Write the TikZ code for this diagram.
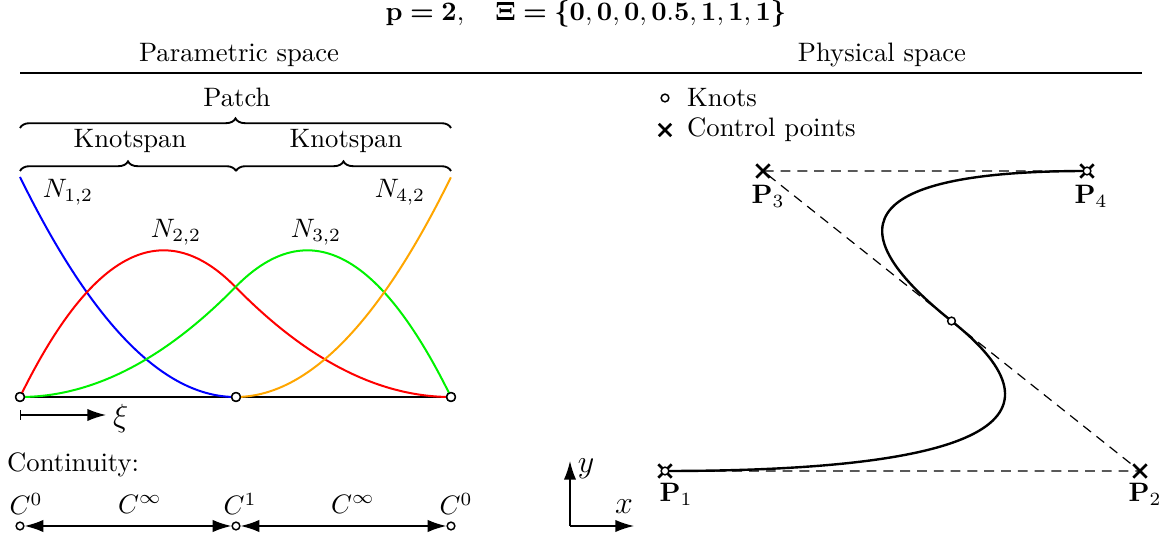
\documentclass[tikz,border=0pt]{standalone}
\usepackage{amsmath,bm}
\usetikzlibrary{arrows.meta,decorations.pathreplacing,calc,shapes.misc}
\definecolor{myorange}{rgb}{1,0.65,0}
\definecolor{mygreen}{rgb}{0,0.95,0}
\newcommand{\titletext}{$\mathbf{p}\bm{=}\mathbf{2},\quad\bm{\Xi}\bm{=}\bm{\{}\mathbf{0},\mathbf{0},\mathbf{0},\mathbf{0.5},\mathbf{1},\mathbf{1},\mathbf{1}\bm{\}}$}
\tikzset{ltip/.tip={Latex[length=7pt,width=4.6pt]}}
\begin{document}
\begin{tikzpicture}[x=0.375pt,y=-0.375pt,
  knot/.style={circle,draw,fill=white,inner sep=0pt,minimum size=3.3pt,line width=0.55pt},
  smallknot/.style={circle,draw,fill=white,inner sep=0pt,minimum size=2.9pt,line width=0.55pt},
  cpt/.style={cross out,draw,inner sep=0pt,minimum size=4pt,line width=1pt},
  bracedec/.style={decorate,decoration={brace,amplitude=3.6pt},line width=0.7pt},
  basis/.style={line width=0.75pt},
  lbl/.style={inner sep=1pt}]
\useasboundingbox (0,0) rectangle (1172,540);
% title
\node[lbl] (ttl) at (586,14) {\titletext};
\node[lbl] (parsp) at (239,55) {Parametric space};
\node[lbl] (physp) at (882,55) {Physical space};
\coordinate (rl) at (20,73);
\coordinate (rr) at (1142,73);
\draw[line width=0.9pt] (rl) -- (rr);
% braces
\coordinate (b0) at (20,128);
\coordinate (b2) at (451,128);
\draw[bracedec] (b0) -- (b2);
\node[lbl] (patch) at (237,97) {Patch};
\coordinate (k0) at (20,171);
\coordinate (k1) at (236,171);
\coordinate (k2) at (451,171);
\draw[bracedec] (k0) -- (k1);
\draw[bracedec] (k1) -- (k2);
\node[lbl] (ks1) at (130,141) {Knotspan};
\node[lbl] (ks2) at (346,141) {Knotspan};
% basis functions
\node[knot] (x0) at (20,397) {};
\node[knot] (x1) at (236,397) {};
\node[knot] (x2) at (451,397) {};
\draw[basis] (x0.center) -- (x2.center);
\draw[basis,blue] plot[domain=0:0.5,samples=60] ({20+431*\x},{397-220*(1-2*\x)^2});
\draw[basis,red] plot[domain=0:0.5,samples=60] ({20+431*\x},{397-220*(4*\x-6*\x*\x)});
\draw[basis,red] plot[domain=0.5:1,samples=60] ({20+431*\x},{397-220*2*(1-\x)^2});
\draw[basis,mygreen] plot[domain=0:0.5,samples=60] ({20+431*\x},{397-220*2*\x*\x});
\draw[basis,mygreen] plot[domain=0.5:1,samples=60] ({20+431*\x},{397-220*2*(1-\x)*(3*\x-1)});
\draw[basis,myorange] plot[domain=0.5:1,samples=60] ({20+431*\x},{397-220*(2*\x-1)^2});
\node[knot] at (x0) {};
\node[knot] at (x1) {};
\node[knot] at (x2) {};
\node[lbl] (n1) at (68,192) {$N_{1,2}$};
\node[lbl] (n2) at (176,232) {$N_{2,2}$};
\node[lbl] (n3) at (316,232) {$N_{3,2}$};
\node[lbl] (n4) at (400,192) {$N_{4,2}$};
% xi arrow
\coordinate (xia) at (20,415);
\coordinate (xib) at (106,415);
\draw[line width=0.55pt,{Bar[width=3.5pt]}-ltip] (xia) -- (xib);
\node[lbl,anchor=west] (xi) at (110,419) {\large$\xi$};
% continuity
\node[lbl,anchor=west] (cont) at (4,465) {Continuity:};
\node[smallknot] (c0) at (20,526) {};
\node[smallknot] (c1) at (236,526) {};
\node[smallknot] (c2) at (451,526) {};
\draw[line width=0.55pt,ltip-ltip] (c0) -- (c1);
\draw[line width=0.55pt,ltip-ltip] (c1) -- (c2);
\node[lbl] (cl0) at (26,504) {$C^0$};
\node[lbl] (cl1) at (140,504) {$C^\infty$};
\node[lbl] (cl2) at (240,504) {$C^1$};
\node[lbl] (cl3) at (353,504) {$C^\infty$};
\node[lbl] (cl4) at (456,504) {$C^0$};
% axes
\coordinate (o) at (570,526);
\coordinate (oy) at (570,461);
\coordinate (ox) at (634,526);
\draw[line width=0.55pt,-ltip] (o) -- (oy);
\draw[line width=0.55pt,-ltip] (o) -- (ox);
\node[lbl] (ylab) at (586,469) {\large$y$};
\node[lbl] (xlab) at (624,507) {\large$x$};
% legend
\node[smallknot] (lk) at (665,98) {};
\node[lbl,anchor=west] (lkt) at (684,98) {Knots};
\node[cpt,minimum size=3.6pt] (lc) at (665,130) {};
\node[lbl,anchor=west] (lct) at (684,130) {Control points};
% physical space
\node[cpt] (P1) at (665,471) {};
\node[cpt] (P2) at (1140,471) {};
\node[cpt] (P3) at (763,171) {};
\node[cpt] (P4) at (1087,171) {};
\coordinate (M) at ($(P2.center)!0.5!(P3.center)$);
\draw[line width=0.45pt,dash pattern=on 3.7pt off 2.6pt] (P1.center) -- (P2.center) -- (P3.center) -- (P4.center);
\draw[line width=0.9pt] (P1.center) .. controls ($(P1.center)!2/3!(P2.center)$) and ($(M)!2/3!(P2.center)$) .. (M)
  .. controls ($(M)!2/3!(P3.center)$) and ($(P4.center)!2/3!(P3.center)$) .. (P4.center);
\node[smallknot] (mk) at (M) {};
\node[smallknot] at (P1) {};
\node[smallknot] at (P4) {};
\node[lbl] (p1l) at (676,494) {$\mathbf{P}_1$};
\node[lbl] (p2l) at (1145,494) {$\mathbf{P}_2$};
\node[lbl] (p3l) at (768,196) {$\mathbf{P}_3$};
\node[lbl] (p4l) at (1091,196) {$\mathbf{P}_4$};
\end{tikzpicture}
\end{document}
